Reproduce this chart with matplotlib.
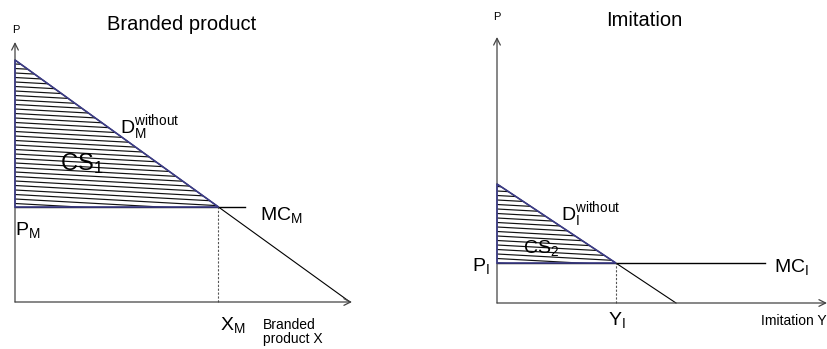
import numpy as np
import matplotlib.pyplot as plt
from matplotlib.patches import Polygon

plt.rcParams['font.family'] = ['Liberation Sans', 'DejaVu Sans']
plt.rcParams['mathtext.fontset'] = 'custom'
plt.rcParams['mathtext.rm'] = 'Liberation Sans'
plt.rcParams['mathtext.it'] = 'Liberation Sans'

# branded product panel
branded_demand_top = 24.2   # price intercept
branded_demand_end = 33.5   # quantity intercept
branded_mc = 9.5
branded_axis = (33.7, 26.0)

# imitation panel
imit_demand_top = 11.9
imit_demand_end = 17.9
imit_mc = 4.0
imit_axis = (33.0, 26.6)

AXCOL = "#444444"
EDGE = "#3c3c88"


def hatch(ax, poly, spacing=0.45, slope=0.055):
    ys = np.arange(-5, 40, spacing)
    for c in ys:
        x = np.array([-1, 40])
        ln, = ax.plot(x, c - slope * x, color="#111111", lw=0.85)
        ln.set_clip_path(poly)


def panel(ax, top, end, mc, axis_len, mc_len, ylab_xy):
    qx = end * (1 - mc / top)
    # axes with arrows
    ax.annotate("", xy=(axis_len[0], 0), xytext=(0, 0),
                arrowprops=dict(arrowstyle="->", lw=0.9, color=AXCOL, shrinkA=0, shrinkB=0, mutation_scale=12))
    ax.annotate("", xy=(0, axis_len[1]), xytext=(0, 0),
                arrowprops=dict(arrowstyle="->", lw=0.9, color=AXCOL, shrinkA=0, shrinkB=0, mutation_scale=12))
    ax.text(ylab_xy[0], ylab_xy[1], "P", fontsize=8, ha="center", va="center")
    # demand
    ax.plot([0, end], [top, 0], color="black", lw=0.8)
    # consumer surplus
    poly = Polygon([(0, top), (qx, mc), (0, mc)], closed=True, facecolor="none",
                   edgecolor=EDGE, lw=1.2, zorder=3)
    ax.add_patch(poly)
    hatch(ax, poly)
    # marginal cost
    ax.plot([0, mc_len], [mc, mc], color="black", lw=1.0)
    ax.plot([qx, qx], [0, mc], color="#555555", lw=0.8, ls=(0, (2, 1.5)))
    return qx


fig = plt.figure(figsize=(8.27, 3.49), dpi=100)

ax1 = fig.add_axes([0, 0, 420 / 827, 1])
ax1.set_xlim(-1.5, 40.5)
ax1.set_ylim(-4.7, 30.2)
ax1.axis("off")
panel(ax1, branded_demand_top, branded_demand_end, branded_mc, branded_axis, 23.0, (0.1, 27.2))
ax1.text(16.7, 27.7, "Branded product", fontsize=14.5, ha="center", va="center")
ax1.text(10.5, 16.9, r"$\mathregular{D_M^{without}}$", fontsize=14, ha="left", va="baseline")
ax1.text(4.5, 13.2, r"$\mathregular{CS_1}$", fontsize=17, ha="left", va="baseline")
ax1.text(24.5, 8.2, r"$\mathregular{MC_M}$", fontsize=14, ha="left", va="baseline")
ax1.text(0.0, 6.7, r"$\mathregular{P_M}$", fontsize=14, ha="left", va="baseline")
ax1.text(20.5, -2.8, r"$\mathregular{X_M}$", fontsize=14, ha="left", va="baseline")
ax1.text(24.8, -1.6, "Branded\nproduct X", fontsize=10, ha="left", va="top", linespacing=1.0)

ax2 = fig.add_axes([420 / 827, 0, 407 / 827, 1])
ax2.set_xlim(-7.7, 33.0)
ax2.set_ylim(-4.6, 30.3)
ax2.axis("off")
panel(ax2, imit_demand_top, imit_demand_end, imit_mc, imit_axis, 26.8, (0.0, 28.6))
ax2.text(14.7, 28.3, "Imitation", fontsize=14.5, ha="center", va="center")
ax2.text(6.4, 8.3, r"$\mathregular{D_I^{without}}$", fontsize=14, ha="left", va="baseline")
ax2.text(2.6, 5.0, r"$\mathregular{CS_2}$", fontsize=14, ha="left", va="baseline")
ax2.text(-2.5, 3.2, r"$\mathregular{P_I}$", fontsize=14, ha="left", va="baseline")
ax2.text(27.7, 3.1, r"$\mathregular{MC_I}$", fontsize=14, ha="left", va="baseline")
ax2.text(11.1, -2.2, r"$\mathregular{Y_I}$", fontsize=14, ha="left", va="baseline")
ax2.text(26.4, -2.2, "Imitation Y", fontsize=10, ha="left", va="baseline")

fig.savefig("out.png", dpi=100)
